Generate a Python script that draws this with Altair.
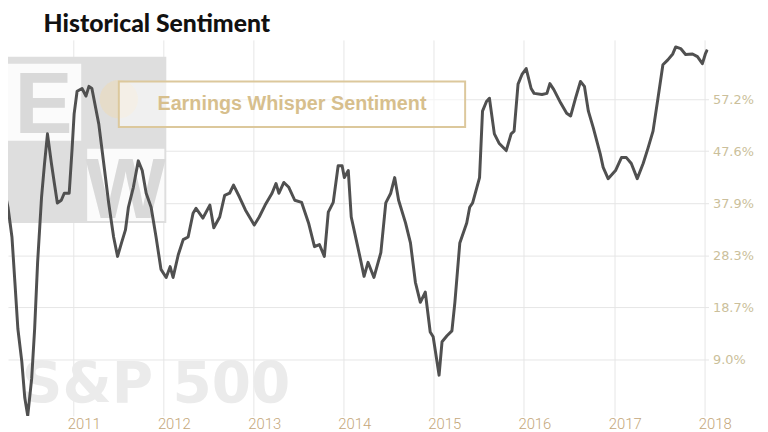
import altair as alt
import pandas as pd

TITLE = "Historical Sentiment"
LEGEND_LABEL = "Earnings Whisper Sentiment"
WATERMARK = "S&P 500"

dates = [
    "2010-03-10", "2010-03-30", "2010-04-11", "2010-04-27", "2010-05-09", "2010-05-21", "2010-06-06", "2010-06-18", "2010-06-30", "2010-07-16",
    "2010-07-28", "2010-08-09", "2010-08-25", "2010-09-06", "2010-09-18", "2010-10-04", "2010-10-16", "2010-10-28", "2010-11-13", "2010-11-25",
    "2010-12-15", "2010-12-27", "2011-01-04", "2011-01-16", "2011-02-05", "2011-02-21", "2011-03-05", "2011-03-17", "2011-04-14", "2011-05-04",
    "2011-05-24", "2011-06-13", "2011-06-29", "2011-07-15", "2011-07-31", "2011-08-12", "2011-09-01", "2011-09-21", "2011-10-07", "2011-10-23",
    "2011-11-12", "2011-12-02", "2011-12-22", "2012-01-12", "2012-01-28", "2012-02-09", "2012-03-01", "2012-03-21", "2012-04-10", "2012-04-30",
    "2012-05-12", "2012-06-09", "2012-07-07", "2012-07-23", "2012-08-16", "2012-09-05", "2012-09-25", "2012-10-11", "2012-11-04", "2012-11-28",
    "2013-01-03", "2013-01-23", "2013-02-16", "2013-03-16", "2013-04-01", "2013-04-13", "2013-05-03", "2013-05-23", "2013-06-16", "2013-07-14",
    "2013-08-11", "2013-09-04", "2013-09-24", "2013-10-14", "2013-10-30", "2013-11-19", "2013-12-09", "2013-12-25", "2014-01-03", "2014-01-19",
    "2014-01-31", "2014-02-20", "2014-03-12", "2014-03-24", "2014-04-09", "2014-05-03", "2014-05-31", "2014-06-20", "2014-07-10", "2014-07-26",
    "2014-08-11", "2014-09-08", "2014-09-28", "2014-10-18", "2014-11-07", "2014-11-27", "2014-12-17", "2014-12-29", "2015-01-22", "2015-02-03",
    "2015-02-23", "2015-03-15", "2015-03-27", "2015-04-16", "2015-05-14", "2015-05-26", "2015-06-07", "2015-07-05", "2015-07-17", "2015-08-02",
    "2015-08-14", "2015-09-03", "2015-09-23", "2015-10-21", "2015-11-10", "2015-11-22", "2015-12-08", "2015-12-24", "2016-01-10", "2016-01-30",
    "2016-02-11", "2016-03-14", "2016-04-03", "2016-04-15", "2016-05-01", "2016-05-29", "2016-06-22", "2016-07-08", "2016-07-28", "2016-08-17",
    "2016-09-02", "2016-09-18", "2016-10-08", "2016-11-05", "2016-11-17", "2016-12-07", "2017-01-06", "2017-01-30", "2017-02-19", "2017-03-11",
    "2017-04-04", "2017-04-28", "2017-05-18", "2017-06-07", "2017-06-27", "2017-07-17", "2017-08-06", "2017-08-26", "2017-09-07", "2017-09-27",
    "2017-10-17", "2017-11-14", "2017-12-04", "2017-12-24", "2018-01-05", "2018-01-13",
]

sentiment = [
    42.2, 39.8, 37.2, 31.7, 23.3, 14.7, 8.6, 1.9, -1.4, 5.5,
    14.7, 27.0, 39.1, 45.3, 50.8, 45.3, 41.6, 38.0, 38.5, 39.8,
    39.8, 48.2, 54.5, 58.7, 59.2, 57.8, 59.6, 59.2, 52.6, 45.3,
    38.0, 31.7, 28.1, 30.6, 33.0, 37.2, 40.9, 45.8, 44.0, 39.8,
    37.2, 31.7, 25.7, 24.2, 26.2, 24.2, 28.4, 31.2, 31.7, 36.1,
    37.0, 35.2, 37.6, 33.4, 35.4, 39.4, 39.8, 41.3, 39.1, 36.7,
    33.9, 35.4, 37.6, 39.8, 41.6, 39.8, 41.8, 40.9, 38.5, 38.1,
    34.3, 29.9, 30.3, 28.1, 36.3, 38.1, 44.9, 44.9, 42.7, 44.0,
    35.4, 31.2, 27.0, 24.4, 27.0, 24.2, 28.8, 38.0, 39.8, 42.7,
    38.5, 34.3, 30.6, 23.3, 19.6, 21.5, 14.1, 13.2, 6.1, 12.3,
    13.4, 14.3, 19.6, 30.6, 34.3, 37.2, 38.0, 42.7, 55.0, 56.8,
    57.4, 50.8, 49.0, 47.7, 50.8, 51.3, 60.0, 61.8, 62.9, 59.2,
    58.3, 58.1, 58.3, 60.1, 59.0, 56.5, 54.6, 54.1, 57.4, 60.5,
    59.6, 55.0, 51.9, 47.1, 44.6, 42.5, 44.0, 46.4, 46.4, 45.3,
    42.5, 45.3, 48.2, 51.3, 57.4, 63.6, 64.5, 65.6, 66.9, 66.6,
    65.5, 65.6, 65.1, 63.8, 65.6, 66.4,
]

year_ticks = ["2011-01-01", "2012-01-01", "2013-01-01", "2014-01-01",
              "2015-01-01", "2016-01-01", "2017-01-01", "2018-01-01"]
year_labels = ["2011", "2012", "2013", "2014", "2015", "2016", "2017", "2018"]
y_ticks = [9.0, 18.7, 28.3, 37.9, 47.6, 57.2]

df = pd.DataFrame({"date": dates, "sentiment": sentiment})
years_df = pd.DataFrame({"date": year_ticks, "label": year_labels})

W, H = 708, 380

x_scale = alt.Scale(
    type="utc",
    domain=[alt.DateTime(year=2010, month=4, date=11, utc=True),
            alt.DateTime(year=2018, month=1, date=18, utc=True)],
)
y_scale = alt.Scale(domain=[-1.45, 68.2], nice=False, zero=False)

x_axis = alt.Axis(
    values=[alt.DateTime(year=int(y[:4]), month=1, date=1, utc=True) for y in year_ticks],
    grid=True, gridColor="#e6e6e6", gridWidth=1,
    domain=False, ticks=False, labels=False,
    title=None,
)
y_axis = alt.Axis(
    orient="right", values=y_ticks,
    labelExpr="format(datum.value, '.1f') + '%'",
    grid=True, gridColor="#e6e6e6", gridWidth=1,
    domain=False, ticks=False,
    labelColor="#cbbf9b", labelFont="DejaVu Sans", labelFontSize=13,
    labelPadding=4, labelOverlap=False, labelBound=False, labelFlush=False,
    title=None,
)

one = pd.DataFrame({"t": [""]})

# watermark (decoration)
wm_block = alt.Chart(one).mark_rect(color="#dedede").encode(
    x=alt.value(-8), x2=alt.value(160), y=alt.value(17), y2=alt.value(185))
wm_white1 = alt.Chart(one).mark_rect(color="#fbfbfb").encode(
    x=alt.value(-3), x2=alt.value(74), y=alt.value(24), y2=alt.value(102))
wm_white2 = alt.Chart(one).mark_rect(color="#fbfbfb").encode(
    x=alt.value(80), x2=alt.value(158), y=alt.value(110), y2=alt.value(183))
wm_e = alt.Chart(pd.DataFrame({"t": ["E"]})).mark_text(
    font="Liberation Sans", fontWeight="bold", fontSize=88, color="#d9d9d9",
    align="center", baseline="alphabetic").encode(
    x=alt.value(36), y=alt.value(94), text="t:N")
wm_w = alt.Chart(pd.DataFrame({"t": ["W"]})).mark_text(
    font="Liberation Sans", fontWeight="bold", fontSize=86, color="#d9d9d9",
    align="center", baseline="alphabetic").encode(
    x=alt.value(119), y=alt.value(180), text="t:N")
wm_blob = alt.Chart(one).mark_point(shape="circle", filled=True, size=1500, color="#eadcc0", opacity=0.7).encode(
    x=alt.value(112), y=alt.value(60))
wm_sp = alt.Chart(pd.DataFrame({"t": [WATERMARK]})).mark_text(
    font="DejaVu Sans", fontWeight="bold", fontSize=57, color="#ebebeb",
    align="left", baseline="alphabetic").encode(
    x=alt.value(14), y=alt.value(367), text="t:N")

line = alt.Chart(df).mark_line(
    color="#505050", strokeWidth=3, clip=True, strokeJoin="round"
).encode(
    x=alt.X("date:T", scale=x_scale, axis=x_axis),
    y=alt.Y("sentiment:Q", scale=y_scale, axis=y_axis),
)

year_text = alt.Chart(years_df).mark_text(
    font="Roboto", fontWeight=300, fontSize=15, color="#c4a77a",
    align="center", baseline="top", dx=11,
).encode(
    x=alt.X("date:T", scale=x_scale),
    y=alt.value(H + 1),
    text="label:N",
)

legend_box = alt.Chart(one).mark_rect(
    fill="#ffffff", fillOpacity=0.55, stroke="#dcc89c", strokeWidth=2
).encode(x=alt.value(112), x2=alt.value(462), y=alt.value(42), y2=alt.value(88))
legend_text = alt.Chart(pd.DataFrame({"t": [LEGEND_LABEL]})).mark_text(
    font="Liberation Sans", fontWeight="bold", fontSize=20, color="#d7bf8d",
    align="center", baseline="middle").encode(
    x=alt.value(287), y=alt.value(65), text="t:N")

title = alt.Chart(pd.DataFrame({"t": [TITLE]})).mark_text(
    font="Lato", fontWeight=900, fontSize=25, color="#111111",
    align="left", baseline="alphabetic").encode(
    x=alt.value(36), y=alt.value(-8), text="t:N")

chart = alt.layer(
    wm_block, wm_white1, wm_white2, wm_blob, wm_e, wm_w, wm_sp,
    line, year_text, legend_box, legend_text, title,
).properties(
    width=W, height=H,
    padding={"left": 0, "top": 30, "right": 52, "bottom": 14},
    autosize=alt.AutoSizeParams(type="none"),
    background="#ffffff",
).configure_view(stroke=None)

chart.save("out.html", embed_options={"renderer": "svg", "actions": False})
